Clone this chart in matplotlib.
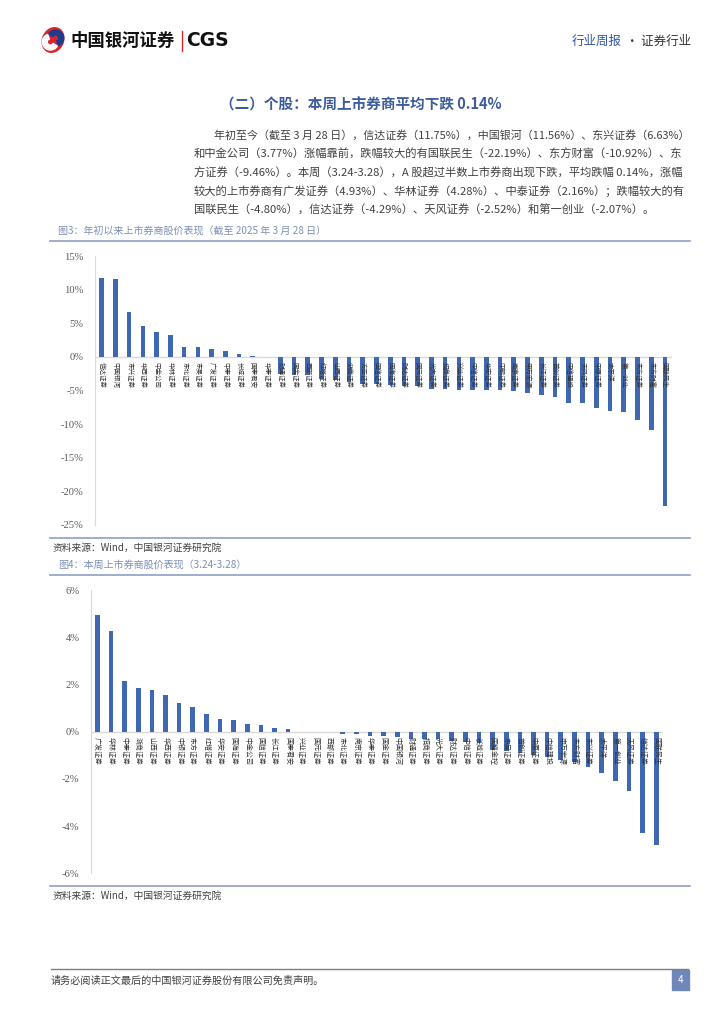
import matplotlib.pyplot as plt
from matplotlib import patches
import numpy as np

plt.rcParams['font.family'] = ['Noto Sans CJK SC', 'DejaVu Sans']
plt.rcParams['axes.unicode_minus'] = False

# Chart 1: year-to-date performance (to 2025-03-28)
ytd_names = ['信达证券', '中国银河', '东兴证券', '华西证券', '中金公司', '华林证券', '东北证券',
             '东吴证券', '广发证券', '中泰证券', '长城证券', '国泰君安', '华泰证券', '财通证券',
             '国金证券', '西部证券', '红塔证券', '山西证券', '浙商证券', '方正证券', '国信证券',
             '国海证券', '财达证券', '国元证券', '光大证券', '招商证券', '兴业证券', '中信证券',
             '华安证券', '中银证券', '南京证券', '申万宏源', '长江证券', '首创证券', '中信建投',
             '天风证券', '中原证券', '太平洋', '第一创业', '东方证券', '东方财富', '国联民生']
ytd_vals = [11.75, 11.56, 6.63, 4.6, 3.77, 3.3, 1.45, 1.45, 1.2, 0.8, 0.4, 0.15, -0.05, -2.54,
            -2.64, -2.7, -3.3, -3.5, -3.8, -4.05, -4.1, -4.2, -4.3, -4.4, -4.8, -4.8, -4.9,
            -4.9, -4.95, -4.95, -5.0, -5.3, -5.6, -6.0, -6.8, -6.9, -7.6, -8.1, -8.2, -9.46,
            -10.92, -22.19]
ytd_ticks = [15, 10, 5, 0, -5, -10, -15, -20, -25]

# Chart 2: weekly performance (3.24-3.28)
wk_names = ['广发证券', '华林证券', '中泰证券', '浙商证券', '山西证券', '华西证券', '中银证券',
            '东方证券', '红塔证券', '华安证券', '国海证券', '中金公司', '国信证券', '长江证券',
            '国泰君安', '兴业证券', '国元证券', '西部证券', '东北证券', '南京证券', '华泰证券',
            '国金证券', '中国银河', '财通证券', '招商证券', '光大证券', '财达证券', '中信证券',
            '长城证券', '国盛金控', '东吴证券', '首创证券', '中原证券', '中信建投', '申万宏源',
            '东方财富', '东兴证券', '太平洋', '第一创业', '天风证券', '信达证券', '国联民生']
wk_vals = [4.93, 4.28, 2.16, 1.85, 1.77, 1.54, 1.21, 1.06, 0.76, 0.55, 0.49, 0.34, 0.28, 0.17,
           0.13, 0.0, 0.0, -0.01, -0.11, -0.11, -0.17, -0.17, -0.24, -0.3, -0.32, -0.32, -0.38,
           -0.44, -0.49, -0.78, -0.83, -0.89, -0.99, -1.06, -1.2, -1.27, -1.48, -1.74, -2.07,
           -2.52, -4.29, -4.80]
wk_ticks = [6, 4, 2, 0, -2, -4, -6]

body_lines = [
    '年初至今（截至 3 月 28 日），信达证券（11.75%），中国银河（11.56%）、东兴证券（6.63%）',
    '和中金公司（3.77%）涨幅靠前，跌幅较大的有国联民生（-22.19%）、东方财富（-10.92%）、东',
    '方证券（-9.46%）。本周（3.24-3.28），A 股超过半数上市券商出现下跌，平均跌幅 0.14%，涨幅',
    '较大的上市券商有广发证券（4.93%）、华林证券（4.28%）、中泰证券（2.16%）；跌幅较大的有',
    '国联民生（-4.80%），信达证券（-4.29%）、天风证券（-2.52%）和第一创业（-2.07%）。',
]

W, H = 724, 1024
BAR = '#4068B2'
LINE = '#8DA0C6'
GREY = '#D9D9D9'


def fx(px):
    return px / W


def fy(py):
    return 1 - py / H


fig = plt.figure(figsize=(7.24, 10.24), dpi=100)

# header logo
lax = fig.add_axes([fx(40), fy(53), fx(26), 26 / H])
lax.set_xlim(-1, 1)
lax.set_ylim(-1, 1)
lax.set_aspect('equal')
lax.axis('off')
lax.add_patch(patches.Ellipse((0, 0), 1.6, 1.95, angle=-25, color='#D7262E'))
lax.add_patch(patches.Wedge((0.2, 0.15), 0.62, -70, 150, width=0.38, color='#1F3C8C'))
lax.add_patch(patches.Wedge((-0.2, -0.15), 0.62, 110, 330, width=0.38, color='white'))

fig.text(fx(70), fy(41), '中国银河证券', fontsize=12.5, fontweight='bold', va='center', color='#111111')
fig.add_artist(plt.Line2D([fx(182), fx(182)], [fy(31), fy(51)], color='#D7262E', lw=1))
fig.text(fx(186), fy(41), 'CGS', fontsize=13.5, fontweight='bold', va='center', color='#111111',
         family='DejaVu Sans')
fig.text(fx(572), fy(41), '行业周报', fontsize=9, va='center', color='#2F57A5')
fig.text(fx(626), fy(41), '· 证券行业', fontsize=9, va='center', color='#333333')

# section title and paragraph
fig.text(fx(220), fy(105), '（二）个股：本周上市券商平均下跌 0.14%', fontsize=10.5,
         fontweight='bold', va='center', color='#3D5C9C')
for k, line in enumerate(body_lines):
    x0 = 214 if k == 0 else 194
    fs = 7.9 if k == 0 else 8.1
    fig.text(fx(x0), fy(135 + k * 18.8), line, fontsize=fs, va='center', color='#404040')


def fig_title(y, txt):
    fig.text(fx(58), fy(y), txt, fontsize=7.2, va='center', color='#7D8FB5')
    fig.add_artist(plt.Line2D([fx(50), fx(690)], [fy(y + 10), fy(y + 10)], color=LINE, lw=1.2))


def source(y):
    fig.text(fx(53), fy(y), '资料来源：Wind，中国银河证券研究院', fontsize=7, va='center',
             color='#404040', style='italic')


def bar_chart(rect, names, vals, ticks, fs_lab, tick_fmt):
    ax = fig.add_axes(rect)
    x = np.arange(len(vals))
    ax.bar(x, vals, width=0.34, color=BAR)
    ax.axhline(0, color=GREY, lw=1, zorder=0)
    ax.set_xlim(-0.5, len(vals) - 0.5)
    ax.set_ylim(min(ticks), max(ticks))
    ax.set_yticks(ticks)
    ax.set_yticklabels([tick_fmt % t for t in ticks], family='Liberation Serif', fontsize=7.6,
                       color='#595959')
    ax.set_xticks([])
    ax.tick_params(axis='y', length=0, pad=8)
    for s in ['top', 'right', 'bottom']:
        ax.spines[s].set_visible(False)
    ax.spines['left'].set_color(GREY)
    for i, n in enumerate(names):
        ax.annotate(n, (i, 0), xytext=(0, -4), textcoords='offset points', rotation=-90,
                    ha='center', va='top', fontsize=fs_lab, color='#333333')
    return ax


fig_title(231, '图3：年初以来上市券商股价表现（截至 2025 年 3 月 28 日）')
bar_chart([fx(94.8), fy(525), fx(577), (525 - 256) / H], ytd_names, ytd_vals, ytd_ticks, 4.7, '%d%%')
fig.add_artist(plt.Line2D([fx(50), fx(690)], [fy(537.5), fy(537.5)], color=LINE, lw=1.2))
source(548)

fig_title(565, '图4：本周上市券商股价表现（3.24-3.28）')
bar_chart([fx(90.5), fy(873.3), fx(572.5), (873.3 - 590) / H], wk_names, wk_vals, wk_ticks, 5.0, '%d%%')
fig.add_artist(plt.Line2D([fx(50), fx(690)], [fy(886), fy(886)], color=LINE, lw=1.2))
source(896)

# footer
fig.add_artist(plt.Line2D([fx(51), fx(688)], [fy(969), fy(969)], color='#7F7F7F', lw=1))
fig.text(fx(51), fy(981), '请务必阅读正文最后的中国银河证券股份有限公司免责声明。', fontsize=7.3,
         va='center', color='#404040')
fig.add_artist(patches.Rectangle((fx(672), fy(990)), fx(17), 20 / H, transform=fig.transFigure,
                                 color='#6F86BB'))
fig.text(fx(680.5), fy(980), '4', fontsize=7, ha='center', va='center', color='white')

fig.savefig('out.png', dpi=100)
